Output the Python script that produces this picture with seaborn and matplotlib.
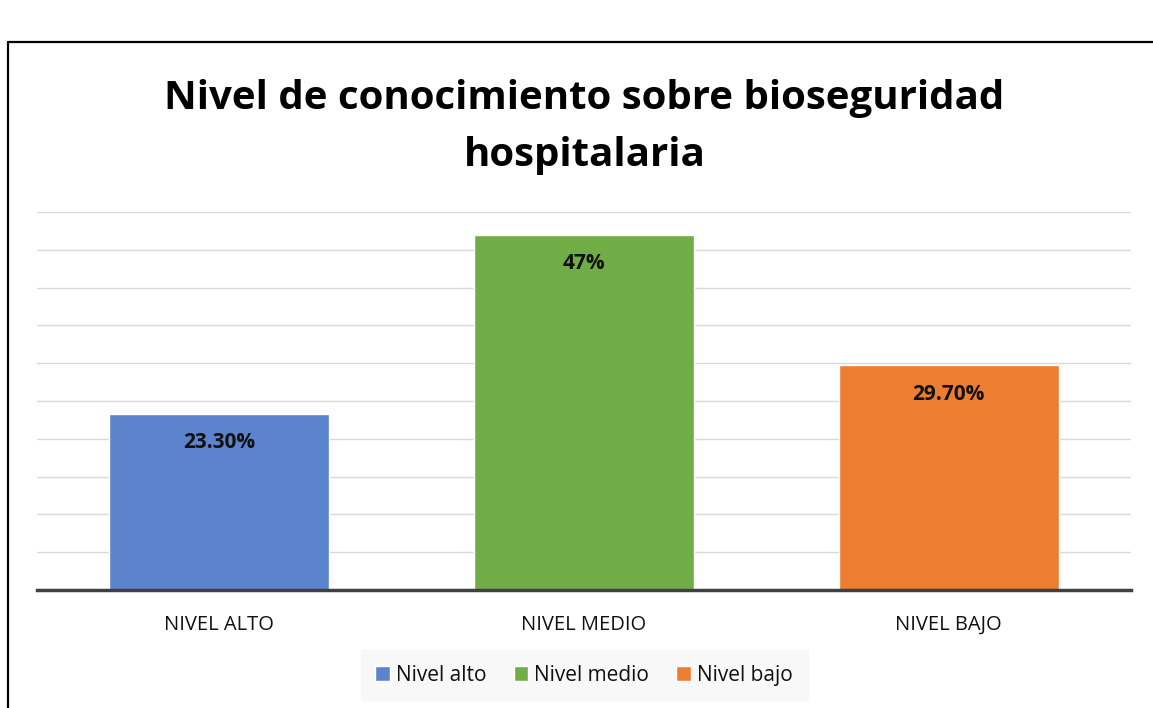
import matplotlib
matplotlib.use("Agg")
import matplotlib.pyplot as plt
import seaborn as sns
import pandas as pd
from matplotlib.lines import Line2D

categorias = ["NIVEL ALTO", "NIVEL MEDIO", "NIVEL BAJO"]
leyenda = ["Nivel alto", "Nivel medio", "Nivel bajo"]
valores = [23.3, 47.0, 29.7]
etiquetas = ["23.30%", "47%", "29.70%"]
colores = ["#5b84cc", "#70ad47", "#ed7d31"]

sns.set_theme(style="white")
plt.rcParams['font.family'] = ['Open Sans', 'DejaVu Sans']

df = pd.DataFrame({"categoria": categorias, "valor": valores, "serie": leyenda})

fig = plt.figure(figsize=(11.53, 7.08), dpi=100)
ax = fig.add_axes([0.0321, 0.1667, 0.9489, 0.5339])

sns.barplot(data=df, x="categoria", y="valor", hue="serie", palette=colores,
            dodge=False, width=0.603, ax=ax, saturation=1, legend=True)

ax.set_ylim(0, 50)
ax.set_yticks(range(0, 51, 5))
ax.yaxis.grid(True, color="#d9d9d9", linewidth=1)
ax.set_axisbelow(True)
ax.tick_params(axis="y", left=False, labelleft=False)
ax.tick_params(axis="x", bottom=False, labelsize=14.5, pad=12, colors="#111111")
ax.set_xlabel("")
ax.set_ylabel("")
for s in ["top", "right", "left"]:
    ax.spines[s].set_visible(False)
ax.spines["bottom"].set_color("#404040")
ax.spines["bottom"].set_linewidth(2.5)

for i, (v, t) in enumerate(zip(valores, etiquetas)):
    ax.annotate(t, (i, v), xytext=(0, -21), textcoords="offset points",
                ha="center", va="center", fontsize=15, fontweight="bold", color="#111111")

leg = ax.legend(loc="center", bbox_to_anchor=(0.5, -0.225), ncol=3, frameon=True,
                fontsize=15, handlelength=0.7, handleheight=0.7, handletextpad=0.3,
                columnspacing=1.3, borderpad=0.4)
leg.get_frame().set_facecolor("#f7f7f7")
leg.get_frame().set_edgecolor("#f7f7f7")
leg.get_frame().set_boxstyle("square")
for txt in leg.get_texts():
    txt.set_color("#111111")

fig.text(0.507, 0.82, "Nivel de conocimiento sobre bioseguridad\nhospitalaria",
         ha="center", va="center", fontsize=29, fontweight="bold",
         linespacing=1.6, color="#000000")

# marco del recuadro
fig.add_artist(Line2D([8 / 1153, 1.0], [1 - 42 / 708] * 2, color="black", linewidth=1.6))
fig.add_artist(Line2D([8 / 1153] * 2, [0, 1 - 42 / 708], color="black", linewidth=1.6))

fig.savefig("out.png", dpi=100)
